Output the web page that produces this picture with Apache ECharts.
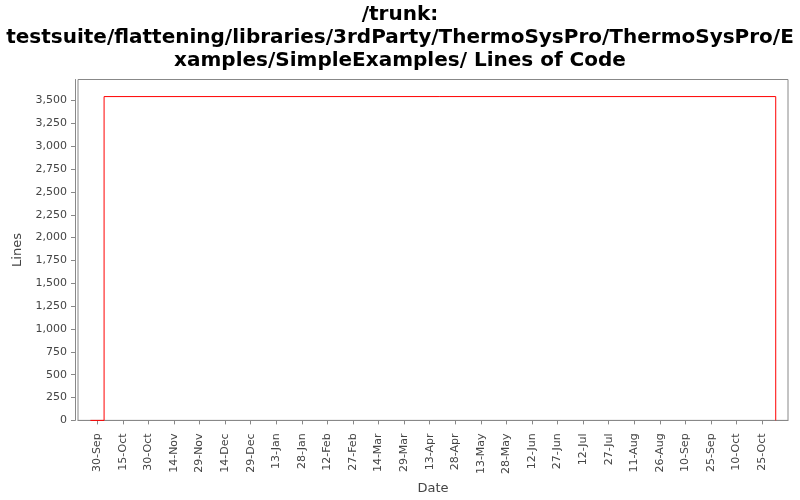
<!DOCTYPE html>
<html>
<head>
<meta charset="utf-8">
<script src="https://cdn.jsdelivr.net/npm/echarts@6/dist/echarts.min.js"></script>
<style>html,body{margin:0;padding:0;background:#fff;}#c{width:800px;height:500px;}</style>
</head>
<body>
<div id="c"></div>
<script>
// ---- data ----
const titleText = "/trunk:\ntestsuite/flattening/libraries/3rdParty/ThermoSysPro/ThermoSysPro/E\nxamples/SimpleExamples/ Lines of Code";
const dates = ["2008-09-26", "2008-10-04", "2009-11-02"];
const lines = [0, 3543, 0];
const tickDates = ["2008-09-30","2008-10-15","2008-10-30","2008-11-14","2008-11-29","2008-12-14","2008-12-29",
  "2009-01-13","2009-01-28","2009-02-12","2009-02-27","2009-03-14","2009-03-29","2009-04-13","2009-04-28",
  "2009-05-13","2009-05-28","2009-06-12","2009-06-27","2009-07-12","2009-07-27","2009-08-11","2009-08-26",
  "2009-09-10","2009-09-25","2009-10-10","2009-10-25"];
const tickLabels = ["30-Sep","15-Oct","30-Oct","14-Nov","29-Nov","14-Dec","29-Dec","13-Jan","28-Jan","12-Feb",
  "27-Feb","14-Mar","29-Mar","13-Apr","28-Apr","13-May","28-May","12-Jun","27-Jun","12-Jul","27-Jul","11-Aug",
  "26-Aug","10-Sep","25-Sep","10-Oct","25-Oct"];
const yTicks = [0,250,500,750,1000,1250,1500,1750,2000,2250,2500,2750,3000,3250,3500];

// ---- helpers ----
const DAY = 86400000;
function toTime(s){ const p = s.split('-').map(Number); return Date.UTC(p[0], p[1]-1, p[2]); }
const tickTimes = tickDates.map(toTime);
const seriesData = dates.map((d, i) => [toTime(d), lines[i]]);
const origin = toTime("2008-09-30");
const xMin = origin - 11.3 * DAY;
const xMax = origin + 405.2 * DAY;

const chart = echarts.init(document.getElementById('c'), null, {renderer: 'canvas'});
const font = 'DejaVu Sans';
chart.setOption({
  animation: false,
  backgroundColor: '#fff',
  title: {
    text: titleText,
    left: 'center',
    top: 3,
    padding: 0,
    textStyle: { fontFamily: font, fontSize: 20, fontWeight: 'bold', color: '#000', lineHeight: 23 }
  },
  grid: {
    left: 78, right: 12, top: 79.5, bottom: 79,
    show: true, borderColor: '#888', borderWidth: 1, backgroundColor: '#fff'
  },
  xAxis: {
    type: 'value',
    min: xMin, max: xMax,
    offset: 4,
    name: 'Date',
    nameLocation: 'middle',
    nameGap: 52,
    nameTextStyle: { fontFamily: font, fontSize: 13, color: '#444' },
    axisLine: { show: true, lineStyle: { color: '#888', width: 1 } },
    axisTick: { show: true, length: 4, lineStyle: { color: '#888' }, customValues: tickTimes },
    splitLine: { show: false },
    axisLabel: {
      customValues: tickTimes,
      rotate: 90,
      margin: 9,
      fontFamily: font, fontSize: 11, color: '#444',
      formatter: function (v) {
        const i = tickTimes.indexOf(v);
        return i >= 0 ? tickLabels[i] : '';
      }
    }
  },
  yAxis: {
    type: 'value',
    min: 0, max: 3730,
    offset: 3,
    name: 'Lines',
    nameLocation: 'middle',
    nameGap: 50,
    nameTextStyle: { fontFamily: font, fontSize: 13, color: '#444' },
    axisLine: { show: true, lineStyle: { color: '#888', width: 1 } },
    axisTick: { show: true, length: 4, lineStyle: { color: '#888' }, customValues: yTicks },
    splitLine: { show: false },
    axisLabel: {
      customValues: yTicks,
      margin: 8,
      fontFamily: font, fontSize: 11, color: '#444',
      formatter: function (v) { return v.toLocaleString('en-US'); }
    }
  },
  series: [{
    type: 'line',
    step: 'end',
    data: seriesData,
    showSymbol: false,
    lineStyle: { color: '#ff0000', width: 1 },
    itemStyle: { color: '#ff0000' }
  }]
});
</script>
</body>
</html>
